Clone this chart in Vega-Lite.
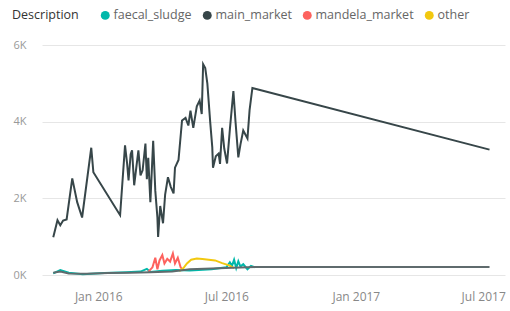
{
  "$schema": "https://vega.github.io/schema/vega-lite/v6.json",
  "width": 463,
  "height": 230,
  "autosize": "none",
  "padding": {"left": 42, "top": 45, "right": 5, "bottom": 36},
  "background": "white",
  "config": {
    "view": {"stroke": null},
    "font": "Open Sans"
  },
  "data": {
    "values": [
      {"d": "2015-10-29", "s": "faecal_sludge", "v": 40},
      {"d": "2015-11-08", "s": "faecal_sludge", "v": 130},
      {"d": "2015-11-20", "s": "faecal_sludge", "v": 60},
      {"d": "2015-12-10", "s": "faecal_sludge", "v": 20},
      {"d": "2016-01-10", "s": "faecal_sludge", "v": 50},
      {"d": "2016-02-10", "s": "faecal_sludge", "v": 70},
      {"d": "2016-03-01", "s": "faecal_sludge", "v": 90},
      {"d": "2016-03-10", "s": "faecal_sludge", "v": 160},
      {"d": "2016-03-15", "s": "faecal_sludge", "v": 80},
      {"d": "2016-04-01", "s": "faecal_sludge", "v": 110},
      {"d": "2016-04-20", "s": "faecal_sludge", "v": 130},
      {"d": "2016-05-10", "s": "faecal_sludge", "v": 120},
      {"d": "2016-06-10", "s": "faecal_sludge", "v": 150},
      {"d": "2016-07-01", "s": "faecal_sludge", "v": 200},
      {"d": "2016-07-06", "s": "faecal_sludge", "v": 330},
      {"d": "2016-07-09", "s": "faecal_sludge", "v": 240},
      {"d": "2016-07-12", "s": "faecal_sludge", "v": 400},
      {"d": "2016-07-15", "s": "faecal_sludge", "v": 180},
      {"d": "2016-07-18", "s": "faecal_sludge", "v": 360},
      {"d": "2016-07-21", "s": "faecal_sludge", "v": 220},
      {"d": "2016-07-25", "s": "faecal_sludge", "v": 280},
      {"d": "2016-07-31", "s": "faecal_sludge", "v": 150},
      {"d": "2016-08-05", "s": "faecal_sludge", "v": 240},
      {"d": "2016-08-11", "s": "faecal_sludge", "v": 200},

      {"d": "2015-10-29", "s": "main_market", "v": 987},
      {"d": "2015-11-04", "s": "main_market", "v": 1430},
      {"d": "2015-11-08", "s": "main_market", "v": 1300},
      {"d": "2015-11-12", "s": "main_market", "v": 1420},
      {"d": "2015-11-17", "s": "main_market", "v": 1450},
      {"d": "2015-11-25", "s": "main_market", "v": 2520},
      {"d": "2015-12-02", "s": "main_market", "v": 1900},
      {"d": "2015-12-09", "s": "main_market", "v": 1500},
      {"d": "2015-12-22", "s": "main_market", "v": 3320},
      {"d": "2015-12-25", "s": "main_market", "v": 2680},
      {"d": "2016-02-01", "s": "main_market", "v": 1560},
      {"d": "2016-02-08", "s": "main_market", "v": 3380},
      {"d": "2016-02-11", "s": "main_market", "v": 2900},
      {"d": "2016-02-13", "s": "main_market", "v": 2470},
      {"d": "2016-02-16", "s": "main_market", "v": 3150},
      {"d": "2016-02-18", "s": "main_market", "v": 3250},
      {"d": "2016-02-21", "s": "main_market", "v": 2340},
      {"d": "2016-02-24", "s": "main_market", "v": 2800},
      {"d": "2016-02-27", "s": "main_market", "v": 3250},
      {"d": "2016-03-01", "s": "main_market", "v": 2600},
      {"d": "2016-03-04", "s": "main_market", "v": 2730},
      {"d": "2016-03-08", "s": "main_market", "v": 3430},
      {"d": "2016-03-10", "s": "main_market", "v": 2500},
      {"d": "2016-03-12", "s": "main_market", "v": 3060},
      {"d": "2016-03-15", "s": "main_market", "v": 1900},
      {"d": "2016-03-19", "s": "main_market", "v": 3500},
      {"d": "2016-03-22", "s": "main_market", "v": 2200},
      {"d": "2016-03-25", "s": "main_market", "v": 1500},
      {"d": "2016-03-26", "s": "main_market", "v": 990},
      {"d": "2016-03-29", "s": "main_market", "v": 1800},
      {"d": "2016-04-02", "s": "main_market", "v": 1350},
      {"d": "2016-04-05", "s": "main_market", "v": 2100},
      {"d": "2016-04-09", "s": "main_market", "v": 2550},
      {"d": "2016-04-13", "s": "main_market", "v": 2300},
      {"d": "2016-04-17", "s": "main_market", "v": 2130},
      {"d": "2016-04-19", "s": "main_market", "v": 2800},
      {"d": "2016-04-24", "s": "main_market", "v": 3000},
      {"d": "2016-04-29", "s": "main_market", "v": 4030},
      {"d": "2016-05-04", "s": "main_market", "v": 4100},
      {"d": "2016-05-08", "s": "main_market", "v": 3900},
      {"d": "2016-05-11", "s": "main_market", "v": 4290},
      {"d": "2016-05-15", "s": "main_market", "v": 3840},
      {"d": "2016-05-20", "s": "main_market", "v": 4400},
      {"d": "2016-05-24", "s": "main_market", "v": 4550},
      {"d": "2016-05-27", "s": "main_market", "v": 4200},
      {"d": "2016-05-29", "s": "main_market", "v": 5500},
      {"d": "2016-06-01", "s": "main_market", "v": 5400},
      {"d": "2016-06-04", "s": "main_market", "v": 4990},
      {"d": "2016-06-08", "s": "main_market", "v": 4000},
      {"d": "2016-06-11", "s": "main_market", "v": 3330},
      {"d": "2016-06-12", "s": "main_market", "v": 2800},
      {"d": "2016-06-16", "s": "main_market", "v": 3100},
      {"d": "2016-06-20", "s": "main_market", "v": 3170},
      {"d": "2016-06-22", "s": "main_market", "v": 2900},
      {"d": "2016-06-25", "s": "main_market", "v": 3840},
      {"d": "2016-06-28", "s": "main_market", "v": 3300},
      {"d": "2016-07-02", "s": "main_market", "v": 2910},
      {"d": "2016-07-06", "s": "main_market", "v": 3800},
      {"d": "2016-07-11", "s": "main_market", "v": 4800},
      {"d": "2016-07-14", "s": "main_market", "v": 4000},
      {"d": "2016-07-18", "s": "main_market", "v": 3070},
      {"d": "2016-07-21", "s": "main_market", "v": 3400},
      {"d": "2016-07-25", "s": "main_market", "v": 3770},
      {"d": "2016-07-31", "s": "main_market", "v": 3560},
      {"d": "2016-08-03", "s": "main_market", "v": 4300},
      {"d": "2016-08-07", "s": "main_market", "v": 4880},
      {"d": "2016-08-11", "s": "main_market", "v": 4860},
      {"d": "2017-07-10", "s": "main_market", "v": 3270},

      {"d": "2016-03-12", "s": "mandela_market", "v": 80},
      {"d": "2016-03-18", "s": "mandela_market", "v": 200},
      {"d": "2016-03-22", "s": "mandela_market", "v": 450},
      {"d": "2016-03-25", "s": "mandela_market", "v": 150},
      {"d": "2016-03-28", "s": "mandela_market", "v": 380},
      {"d": "2016-04-01", "s": "mandela_market", "v": 520},
      {"d": "2016-04-04", "s": "mandela_market", "v": 300},
      {"d": "2016-04-08", "s": "mandela_market", "v": 420},
      {"d": "2016-04-12", "s": "mandela_market", "v": 350},
      {"d": "2016-04-16", "s": "mandela_market", "v": 560},
      {"d": "2016-04-19", "s": "mandela_market", "v": 300},
      {"d": "2016-04-23", "s": "mandela_market", "v": 450},
      {"d": "2016-04-27", "s": "mandela_market", "v": 200},
      {"d": "2016-05-01", "s": "mandela_market", "v": 120},

      {"d": "2016-04-25", "s": "other", "v": 100},
      {"d": "2016-05-01", "s": "other", "v": 180},
      {"d": "2016-05-06", "s": "other", "v": 300},
      {"d": "2016-05-12", "s": "other", "v": 400},
      {"d": "2016-05-20", "s": "other", "v": 430},
      {"d": "2016-05-28", "s": "other", "v": 420},
      {"d": "2016-06-06", "s": "other", "v": 400},
      {"d": "2016-06-15", "s": "other", "v": 380},
      {"d": "2016-06-25", "s": "other", "v": 310},
      {"d": "2016-07-05", "s": "other", "v": 250},
      {"d": "2016-07-12", "s": "other", "v": 180},

      {"d": "2015-10-29", "s": "series5", "v": 60},
      {"d": "2015-11-08", "s": "series5", "v": 90},
      {"d": "2015-11-20", "s": "series5", "v": 40},
      {"d": "2015-12-15", "s": "series5", "v": 30},
      {"d": "2016-01-15", "s": "series5", "v": 50},
      {"d": "2016-02-15", "s": "series5", "v": 60},
      {"d": "2016-03-15", "s": "series5", "v": 70},
      {"d": "2016-04-15", "s": "series5", "v": 90},
      {"d": "2016-05-10", "s": "series5", "v": 150},
      {"d": "2016-06-10", "s": "series5", "v": 170},
      {"d": "2016-07-10", "s": "series5", "v": 190},
      {"d": "2016-08-11", "s": "series5", "v": 210},
      {"d": "2017-07-10", "s": "series5", "v": 210}
    ]
  },
  "mark": {"type": "line", "strokeWidth": 2, "interpolate": "linear"},
  "encoding": {
    "x": {
      "field": "d",
      "type": "temporal",
      "scale": {
        "type": "utc",
        "domain": [
          {"year": 2015, "month": 10, "date": 13, "utc": true},
          {"year": 2017, "month": 8, "date": 1, "utc": true}
        ]
      },
      "axis": {
        "title": null,
        "values": [
          {"year": 2016, "month": 1, "date": 1, "utc": true},
          {"year": 2016, "month": 7, "date": 1, "utc": true},
          {"year": 2017, "month": 1, "date": 1, "utc": true},
          {"year": 2017, "month": 7, "date": 1, "utc": true}
        ],
        "labelExpr": "utcFormat(datum.value, '%b %Y')",
        "grid": false,
        "domain": false,
        "ticks": false,
        "labelPadding": 16,
        "labelFontSize": 12,
        "labelColor": "#888888",
        "labelFont": "Open Sans"
      }
    },
    "y": {
      "field": "v",
      "type": "quantitative",
      "scale": {"domain": [0, 6000], "nice": false},
      "axis": {
        "title": null,
        "values": [0, 2000, 4000, 6000],
        "labelExpr": "format(datum.value / 1000, 'd') + 'K'",
        "grid": true,
        "gridColor": "#e6e6e6",
        "gridWidth": 1,
        "domain": false,
        "ticks": false,
        "labelPadding": 16,
        "labelFontSize": 11,
        "labelColor": "#999999",
        "labelFont": "Open Sans"
      }
    },
    "color": {
      "field": "s",
      "type": "nominal",
      "scale": {
        "domain": ["faecal_sludge", "main_market", "mandela_market", "other", "series5"],
        "range": ["#01B8AA", "#374649", "#FD625E", "#F2C80F", "#5F6B6D"]
      },
      "legend": {
        "values": ["faecal_sludge", "main_market", "mandela_market", "other"],
        "title": "Description",
        "orient": "none",
        "direction": "horizontal",
        "legendX": -30,
        "legendY": -36,
        "titleOrient": "left",
        "titleAnchor": "middle",
        "titleBaseline": "middle",
        "titlePadding": 20,
        "titleFontSize": 12.5,
        "titleFontWeight": "normal",
        "titleColor": "#333333",
        "titleFont": "Open Sans",
        "labelFontSize": 12.5,
        "labelColor": "#666666",
        "labelFont": "Open Sans",
        "labelOffset": 2,
        "columnPadding": 9,
        "symbolType": "circle",
        "symbolSize": 80,
        "encode": {
          "symbols": {
            "update": {
              "fill": {"scale": "color", "field": "value"},
              "strokeWidth": {"value": 0}
            }
          }
        }
      }
    },
    "order": {"field": "d", "type": "temporal"}
  }
}
